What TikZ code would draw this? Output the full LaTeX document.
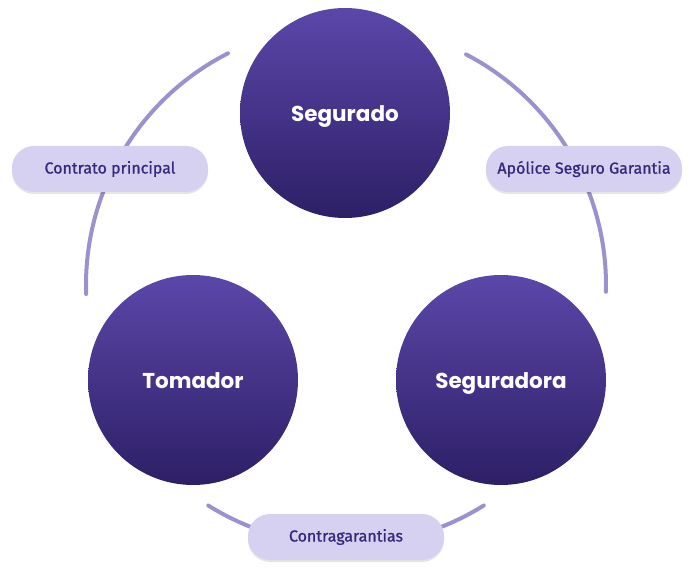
\documentclass[tikz,border=0pt]{standalone}
\usepackage{fontspec}
\setmainfont{Open Sans}
\newfontfamily\partyfont{Poppins}
\newfontfamily\pillfont{Fira Sans}[FakeBold=0.9]
\usetikzlibrary{shadows}

\definecolor{ringline}{HTML}{9C90CF}
\definecolor{pillfill}{HTML}{D7D1F1}
\definecolor{pilltext}{HTML}{34287A}
\definecolor{partytop}{HTML}{5B47A9}
\definecolor{partybot}{HTML}{2D1F66}

\tikzset{
  party/.style={circle, minimum size=210pt, inner sep=0pt,
    top color=partytop, bottom color=partybot, text=white,
    text height=16.5pt, text depth=0pt,
    font=\partyfont\bfseries\fontsize{21.5}{25}\selectfont},
  pill/.style={rounded corners=22pt, fill=pillfill, minimum width=196pt,
    minimum height=46pt, text=pilltext, font=\pillfont\fontsize{16}{19}\selectfont,
    drop shadow={shadow xshift=0pt, shadow yshift=-2pt, opacity=0.10, fill=black}},
  ring/.style={ringline, line width=4pt, line cap=round}
}

\begin{document}
\begin{tikzpicture}[x=1pt, y=1pt]
    \useasboundingbox (0,0) rectangle (694,579);
    \coordinate (hub) at (346,294);

    % ring pieces
    \draw[ring] ([shift={(117:260)}]hub) arc[start angle=117, end angle=182, radius=260];
    \draw[ring] ([shift={(62.5:260)}]hub) arc[start angle=62.5, end angle=-1.5, radius=260];
    \draw[ring] ([shift={(238:260)}]hub) arc[start angle=238, end angle=302, radius=260];

    \node[party] (segurado) at (345,466) {Segurado};
    \node[party] (tomador) at (193,199) {Tomador};
    \node[party] (seguradora) at (501,199) {Seguradora};

    \node[pill] (contrato) at (110,410) {Contrato principal};
    \node[pill] (apolice) at (584,410) {Apólice Seguro Garantia};
    \node[pill] (contragar) at (346,42) {Contragarantias};
\end{tikzpicture}
\end{document}
